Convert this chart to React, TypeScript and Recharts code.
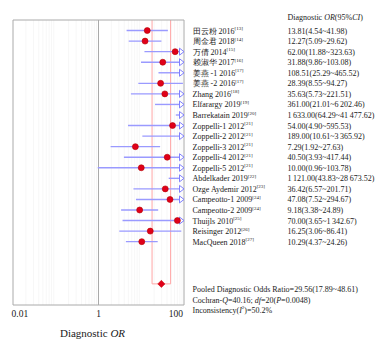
import { ReferenceLine, Scatter, ScatterChart, XAxis, YAxis } from 'recharts'

// forest plot, diagnostic OR per study
const studyNames = [
	'田云粉 2016',
	'周金君 2018',
	'万倩 2014',
	'赖淑华 2017',
	'姜燕 -1 2016',
	'姜燕 -2 2016',
	'Zhang 2016',
	'Elfarargy 2019',
	'Barrekatain 2019',
	'Zoppelli-1 2012',
	'Zoppelli-2 2012',
	'Zoppelli-3 2012',
	'Zoppelli-4 2012',
	'Zoppelli-5 2012',
	'Abdelkader 2019',
	'Ozge Aydemir 2012',
	'Campeotto-1 2009',
	'Campeotto-2 2009',
	'Thuijls 2010',
	'Reisinger 2012',
	'MacQueen 2018',
]
const refNumbers = [13, 14, 15, 16, 17, 17, 18, 19, 20, 21, 21, 21, 21, 21, 22, 23, 24, 24, 25, 26, 27]
const oddsRatios = [
	13.81, 12.27, 62.0, 31.88, 108.51, 28.39, 35.63, 361.0, 1633.0, 54.0, 189.0, 7.29, 40.5, 10.0,
	1121.0, 36.42, 47.08, 9.18, 70.0, 16.25, 10.29,
]
const lowerCI = [
	4.54, 5.09, 11.88, 9.86, 25.29, 8.55, 5.73, 21.01, 64.29, 4.9, 10.61, 1.92, 3.93, 0.96, 43.83,
	6.57, 7.52, 3.38, 3.65, 3.06, 4.37,
]
const upperCI = [
	41.98, 29.62, 323.63, 103.08, 465.52, 94.27, 221.51, 6202.46, 41477.62, 595.53, 3365.92, 27.63,
	417.44, 103.78, 28673.52, 201.71, 294.67, 24.89, 1342.67, 86.41, 24.26,
]
const pooledOR = 29.56
const pooledLower = 17.89
const pooledUpper = 48.61
const cochranQ = 40.16
const degreesFreedom = 20
const pValue = '0.0048'
const iSquared = 50.2

const axisTicks = [0.01, 1, 100]
const minorTicks = [
	0.02, 0.03, 0.04, 0.05, 0.06, 0.07, 0.08, 0.09, 0.2, 0.3, 0.4, 0.5, 0.6, 0.7, 0.8, 0.9, 2, 3, 4,
	5, 6, 7, 8, 9, 20, 30, 40, 50, 60, 70, 80, 90,
]

const X_MIN = 0.01
const X_MAX = 100
const Y_MAX = 27
const POOLED_ROW = 25

const FONT = '"Liberation Serif", "Times New Roman", serif'
const TEXT = '#1a1a1a'
const CI_BLUE = '#9a9aff'
const DOT_RED = '#e0001a'
const PINK = '#ffa6a6'
const FRAME = '#aaaaaa'

const fmt = (v: number) => {
	const [int, dec] = v.toFixed(2).split('.')
	return int.replace(/\B(?=(\d{3})+(?!\d))/g, '\u2009') + '.' + dec
}

const rows = studyNames.map((name, i) => ({
	row: i + 1,
	name,
	ref: refNumbers[i],
	or: oddsRatios[i],
	lo: lowerCI[i],
	hi: upperCI[i],
	ci: `${fmt(oddsRatios[i])}(${fmt(lowerCI[i])}~${fmt(upperCI[i])})`,
}))

const dotData = rows.filter((r) => r.or <= X_MAX).map((r) => ({ x: r.or, y: r.row }))
const arrowData = rows.filter((r) => r.hi > X_MAX).map((r) => ({ x: X_MAX, y: r.row }))
const labelData = rows.map((r) => ({ x: X_MAX, y: r.row, name: r.name, ref: r.ref, ci: r.ci }))
const headerData = [{ x: X_MAX, y: 0 }]
const pooledData = [{ x: pooledOR, y: POOLED_ROW }]

const textStyle = { fontFamily: FONT }

const Dot = (props: any) => (
	<circle cx={props.cx} cy={props.cy} r={3} fill={DOT_RED} stroke='#b30000' strokeWidth={0.6} />
)

const Arrow = (props: any) => {
	const { cx, cy } = props
	return (
		<path
			d={`M${cx - 4.5},${cy - 3.5} L${cx},${cy} L${cx - 4.5},${cy + 3.5} Z`}
			fill='#ffffff'
			stroke='#8080ff'
			strokeWidth={1}
		/>
	)
}

const Diamond = (props: any) => {
	const { cx, cy } = props
	return (
		<path
			d={`M${cx - 3.6},${cy} L${cx},${cy - 3.6} L${cx + 3.6},${cy} L${cx},${cy + 3.6} Z`}
			fill={DOT_RED}
			stroke='#c00000'
			strokeWidth={0.5}
		/>
	)
}

const StudyLabel = (props: any) => {
	const { cx, cy, payload } = props
	return (
		<g fill={TEXT} style={textStyle}>
			<text x={cx + 8.5} y={cy + 3} fontSize={8} style={textStyle}>
				{payload.name}
				<tspan fontSize={5} dy={-3.5}>
					[{payload.ref}]
				</tspan>
			</text>
			<text x={cx + 103.5} y={cy + 3} fontSize={8} style={textStyle}>
				{payload.ci}
			</text>
		</g>
	)
}

const Header = (props: any) => {
	const { cx, cy } = props
	return (
		<text x={cx + 103.5} y={cy - 0.5} fontSize={8} fill={TEXT} style={textStyle}>
			Diagnostic <tspan fontStyle='italic'>OR</tspan>(95%<tspan fontStyle='italic'>CI</tspan>)
		</text>
	)
}

const FooterLines = (props: any) => {
	const { cx, cy } = props
	const x = cx + 8.5
	return (
		<g fill={TEXT} fontSize={8} style={textStyle}>
			<text x={x} y={cy + 8} style={textStyle}>
				Pooled Diagnostic Odds Ratio={fmt(pooledOR)}({fmt(pooledLower)}~{fmt(pooledUpper)})
			</text>
			<text x={x} y={cy + 19} style={textStyle}>
				Cochran-<tspan fontStyle='italic'>Q</tspan>={cochranQ}; <tspan fontStyle='italic'>df</tspan>=
				{degreesFreedom}(<tspan fontStyle='italic'>P</tspan>={pValue})
			</text>
			<text x={x} y={cy + 29} style={textStyle}>
				Inconsistency(<tspan fontStyle='italic'>I</tspan>
				<tspan fontSize={5} dy={-3.5}>
					2
				</tspan>
				<tspan dy={3.5}>)={iSquared}%</tspan>
			</text>
		</g>
	)
}

const AxisTick = (props: any) => {
	const { x, y, payload } = props
	const v = payload.value
	const anchor = v === X_MIN ? 'start' : v === X_MAX ? 'end' : 'middle'
	const tx = v === X_MIN ? x - 1.5 : v === X_MAX ? x - 1 : x
	return (
		<text x={tx} y={y} dy={3.5} textAnchor={anchor} fontSize={9.5} fill={TEXT} style={textStyle}>
			{v}
		</text>
	)
}

const AxisTitle = (props: any) => {
	const { x, y, width } = props.viewBox
	return (
		<text
			x={x + width / 2 - 6}
			y={y + 32}
			textAnchor='middle'
			fontSize={11}
			fill={TEXT}
			style={textStyle}
		>
			Diagnostic <tspan fontStyle='italic'>OR</tspan>
		</text>
	)
}

export default function App() {
	return (
		<div style={{ width: 379, height: 334, fontFamily: FONT }}>
			<ScatterChart width={379} height={334} margin={{ top: 12, right: 203, bottom: 0, left: 5 }}>
				<XAxis
					type='number'
					dataKey='x'
					scale='log'
					domain={[X_MIN, X_MAX]}
					ticks={axisTicks}
					interval={0}
					tick={<AxisTick />}
					tickLine={false}
					axisLine={false}
					height={37}
					label={<AxisTitle />}
				/>
				<YAxis type='number' dataKey='y' domain={[0, Y_MAX]} reversed hide />

				{minorTicks.map((v) => (
					<ReferenceLine key={'m' + v} x={v} stroke='#f7f7f7' strokeWidth={1} />
				))}
				<ReferenceLine x={1} stroke={FRAME} strokeWidth={1} />

				{/* pooled CI bracket */}
				<ReferenceLine
					segment={[
						{ x: pooledLower, y: 0 },
						{ x: pooledLower, y: POOLED_ROW },
					]}
					stroke={PINK}
				/>
				<ReferenceLine
					segment={[
						{ x: pooledUpper, y: 0 },
						{ x: pooledUpper, y: POOLED_ROW },
					]}
					stroke={PINK}
				/>
				<ReferenceLine
					segment={[
						{ x: pooledLower, y: POOLED_ROW },
						{ x: pooledUpper, y: POOLED_ROW },
					]}
					stroke={PINK}
				/>

				{rows.map((r) => (
					<ReferenceLine
						key={'ci' + r.row}
						segment={[
							{ x: r.lo, y: r.row },
							{ x: Math.min(r.hi, X_MAX), y: r.row },
						]}
						stroke={CI_BLUE}
						strokeWidth={1.4}
					/>
				))}

				{/* frame */}
				<ReferenceLine x={X_MIN} stroke={FRAME} />
				<ReferenceLine x={X_MAX} stroke={FRAME} />
				<ReferenceLine y={0} stroke={FRAME} />
				<ReferenceLine y={Y_MAX} stroke={FRAME} />

				<Scatter data={arrowData} shape={<Arrow />} isAnimationActive={false} />
				<Scatter data={dotData} shape={<Dot />} isAnimationActive={false} />
				<Scatter data={pooledData} shape={<Diamond />} isAnimationActive={false} />
				<Scatter data={labelData} shape={<StudyLabel />} isAnimationActive={false} />
				<Scatter data={headerData} shape={<Header />} isAnimationActive={false} />
				<Scatter
					data={[{ x: X_MAX, y: POOLED_ROW }]}
					shape={<FooterLines />}
					isAnimationActive={false}
				/>
			</ScatterChart>
		</div>
	)
}
